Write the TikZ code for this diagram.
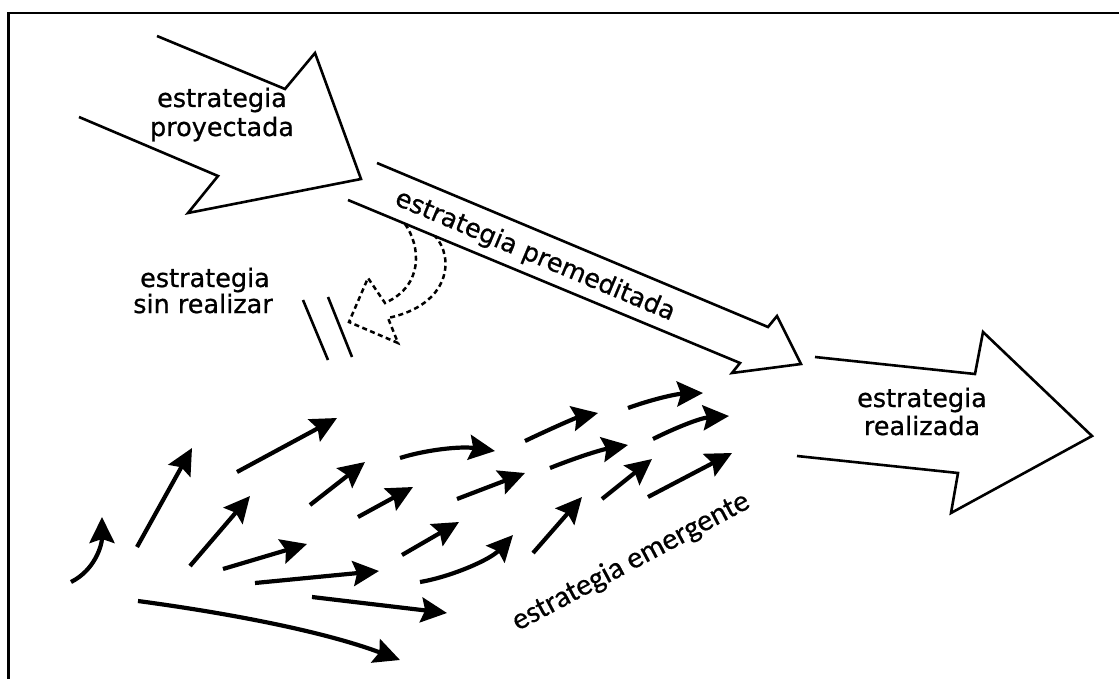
\documentclass[tikz,border=0pt]{standalone}
\usepackage{fontspec}
\setmainfont{DejaVu Sans}[FakeBold=0.8]
\newfontfamily\emfont{Carlito}[FakeBold=0.5]
\usetikzlibrary{arrows.meta}
\tikzset{
  bigarrow/.style={line width=2.6pt, line join=miter},
  dsharrow/.style={line width=2.5pt, dash pattern=on 5pt off 3.5pt},
  small/.style={line width=4.2pt, -{Stealth[length=26pt,width=25pt,inset=4pt]}},
  lbl/.style={font=\fontsize{25.5}{28}\selectfont, inner sep=0pt, anchor=base},
  rlbl/.style={font=\fontsize{25.5}{28}\selectfont, inner sep=0pt},
  elbl/.style={font=\emfont\fontsize{30.5}{32}\selectfont, inner sep=0pt},
}
\begin{document}
\begin{tikzpicture}[x=1pt,y=-1pt]
\useasboundingbox (0,0) rectangle (1119,679);
% frame
\draw[line width=2.6pt] (8.7,679) -- (8.7,13.2) -- (1119,13.2);

% projected strategy arrow
\draw[bigarrow] (157,36) -- (285,89) -- (315,53) -- (361,179) -- (188,213) -- (218,176) -- (79,117);
\node[lbl] (p1) at (222,107) {estrategia};
\node[lbl] (p2) at (222,136) {proyectada};

% deliberate strategy arrow
\draw[bigarrow] (377,163) -- (768,327) -- (777,316) -- (801,364) -- (732,373) -- (740,363) -- (348,200);
\node[rlbl, rotate=-22.8] (pm) at (535,256) {estrategia premeditada};

% unrealized strategy (dashed)
\draw[dsharrow] (405,224) .. controls (420,245) and (425,285) .. (385,303)
  -- (368,278) -- (349,322) -- (398,343) -- (388,318)
  .. controls (450,305) and (455,258) .. (435,236);
\draw[line width=2.6pt] (303,300) -- (328,360);
\draw[line width=2.6pt] (328,297) -- (352,357);
\node[lbl] (s1) at (205,287) {estrategia};
\node[lbl] (s2) at (203,313) {sin realizar};

% realized strategy arrow
\draw[bigarrow] (815,357) -- (975,374) -- (983,332) -- (1092,436) -- (951,513) -- (958,473) -- (797,456);
\node[lbl] (r1) at (922,407) {estrategia};
\node[lbl] (r2) at (922,435) {realizada};

% emergent strategy small arrows
\draw[small] (71,582) .. controls (95,570) and (102,545) .. (102,517);
\draw[small] (137,547) -- (192,448);
\draw[small] (237,472) -- (337,418);
\draw[small] (190,566) -- (250,496);
\draw[small] (310,505) -- (365,462);
\draw[small] (358,517) -- (413,487);
\draw[small] (223,569) -- (307,544);
\draw[small] (255,583) -- (379,571);
\draw[small] (312,597) -- (447,613);
\draw[small] (138,601) .. controls (220,612) and (320,630) .. (400,660);
\draw[small] (400,458) .. controls (425,450) and (460,446) .. (495,451);
\draw[small] (402,555) -- (459,522);
\draw[small] (420,582) .. controls (450,577) and (490,560) .. (513,535);
\draw[small] (457,499) -- (525,473);
\draw[small] (525,441) .. controls (548,430) and (575,418) .. (598,413);
\draw[small] (550,468) .. controls (575,458) and (600,450) .. (628,445);
\draw[small] (533,553) -- (582,497);
\draw[small] (602,499) -- (652,459);
\draw[small] (628,408) .. controls (650,400) and (675,394) .. (703,393);
\draw[small] (653,439) .. controls (675,428) and (700,418) .. (729,416);
\draw[small] (648,497) -- (732,453);
\node[elbl, rotate=28] (em) at (631,562) {estrategia emergente};
\end{tikzpicture}
\end{document}
